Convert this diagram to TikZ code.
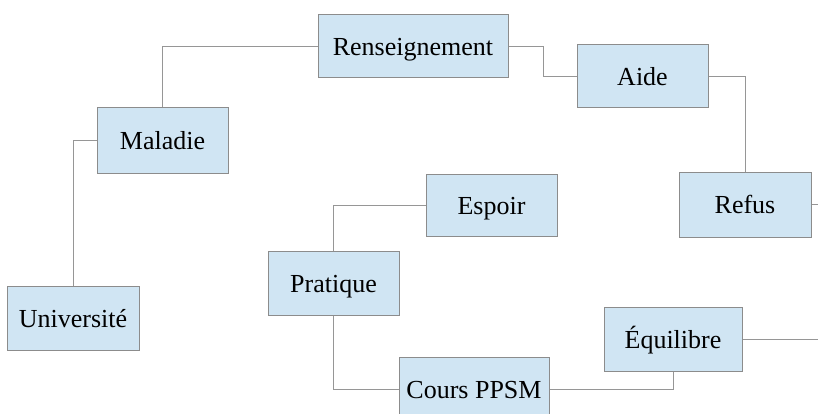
\documentclass[tikz,border=0pt]{standalone}
\usepackage{fontspec}
\setmainfont{Liberation Serif}
\definecolor{boxfill}{RGB}{208,229,243}
\definecolor{boxline}{RGB}{140,140,140}
\definecolor{linkcol}{RGB}{150,150,150}
\begin{document}
\begin{tikzpicture}[x=1pt,y=-1pt,
  box/.style={draw=boxline,fill=boxfill,line width=1pt,minimum height=64pt,inner sep=0pt,text height=21pt,text depth=3pt,font=\fontsize{26}{30}\selectfont},
  link/.style={draw=linkcol,line width=1pt}]
\useasboundingbox (0,0) rectangle (818,414);
\node[box,minimum width=190pt,minimum height=63pt] (ren) at (413,46.5) {Renseignement};
\node[box,minimum width=131pt,minimum height=65pt] (mal) at (162.5,140.5) {Maladie};
\node[box,minimum width=132pt] (uni) at (73,318) {Université};
\node[box,minimum width=131pt,minimum height=63pt] (aid) at (642.5,76.5) {Aide};
\node[box,minimum width=132pt,minimum height=65pt] (ref) at (745,204.5) {Refus};
\node[box,minimum width=131pt,minimum height=62pt] (esp) at (491.5,205) {Espoir};
\node[box,minimum width=131pt] (pra) at (333.5,283) {Pratique};
\node[box,minimum width=150pt] (cou) at (474,389) {Cours PPSM};
\node[box,minimum width=138pt] (equ) at (673,339) {Équilibre};
\coordinate (refout) at (818,204.5);
\coordinate (equout) at (818,339);
\draw[link] (mal.north) |- (ren.west);
\draw[link] (mal.west) -| (uni.north);
\draw[link] (ren.east) -- ++(35,0) |- (aid.west);
\draw[link] (aid.east) -| (ref.north);
\draw[link] (ref.east) -- (refout);
\draw[link] (esp.west) -| (pra.north);
\draw[link] (pra.south) |- (cou.west);
\draw[link] (cou.east) -| (equ.south);
\draw[link] (equ.east) -- (equout);
\end{tikzpicture}
\end{document}
